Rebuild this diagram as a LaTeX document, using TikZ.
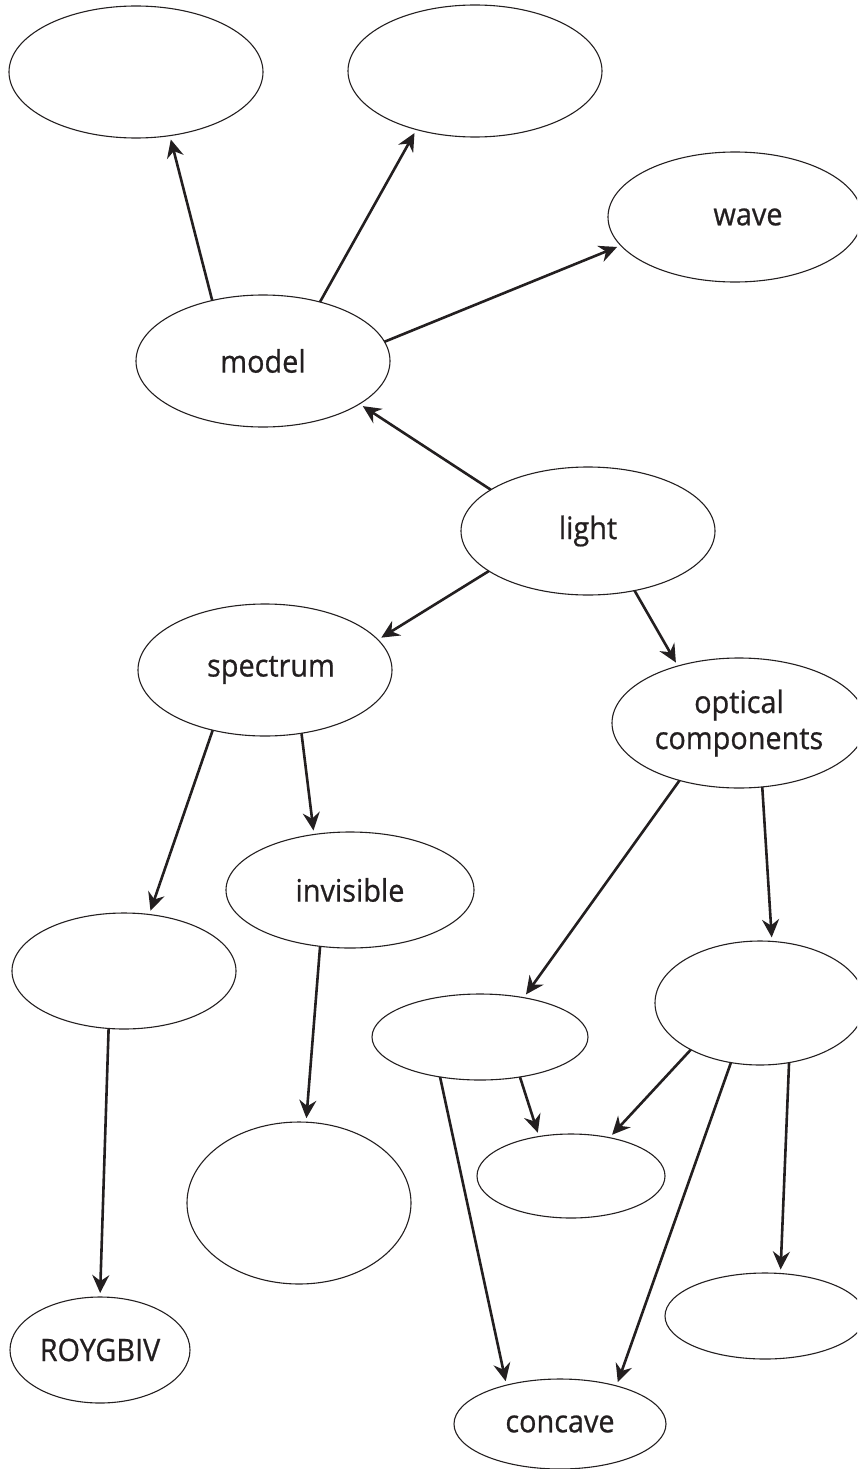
\documentclass[tikz,border=0pt]{standalone}
\usepackage{fontspec}
\setmainfont{Open Sans}[FakeStretch=0.93,FakeBold=0.7]
\usetikzlibrary{shapes.geometric,arrows.meta}
\definecolor{ink}{HTML}{231F20}
\begin{document}
\begin{tikzpicture}[x=1pt,y=-1pt,
  concept/.style={ellipse, draw=ink, line width=1.1pt, inner sep=0pt, outer sep=0pt,
    align=center, font=\fontsize{31}{36}\selectfont, text=ink},
  link/.style={draw=ink, line width=2.6pt, -{Stealth[length=18pt,width=17pt,inset=6pt]}, shorten >=4pt}
]
\useasboundingbox (0,0) rectangle (857,1469);
\clip (0,0) rectangle (857,1469);
\node[concept, minimum width=254pt, minimum height=132pt] (tl) at (136,72) {};
\node[concept, minimum width=254pt, minimum height=132pt] (tm) at (475,71) {};
\node[concept, minimum width=254pt, minimum height=130pt] (wave) at (735,217) {\hspace*{26pt}wave};
\node[concept, minimum width=254pt, minimum height=132pt] (model) at (263,361) {model};
\node[concept, minimum width=254pt, minimum height=128pt] (light) at (588,531) {light};
\node[concept, minimum width=254pt, minimum height=132pt] (spec) at (265,670) {\hspace*{12pt}spectrum};
\node[concept, minimum width=254pt, minimum height=130pt] (opt) at (739,723) {optical\\components};
\node[concept, minimum width=248pt, minimum height=116pt] (inv) at (350,890) {invisible};
\node[concept, minimum width=224pt, minimum height=116pt] (lm) at (124,971) {};
\node[concept, minimum width=216pt, minimum height=86pt] (mr) at (480,1037) {};
\node[concept, minimum width=210pt, minimum height=124pt] (re) at (760,1003) {};
\node[concept, minimum width=188pt, minimum height=84pt] (small) at (571,1176) {};
\node[concept, minimum width=224pt, minimum height=162pt] (big) at (299,1203) {};
\node[concept, minimum width=180pt, minimum height=106pt] (roy) at (100,1350) {ROYGBIV};
\node[concept, minimum width=200pt, minimum height=86pt] (rb) at (765,1316) {};
\node[concept, minimum width=212pt, minimum height=90pt] (conc) at (560,1424) {concave};

\draw[link] (model.130.1) -- (tl.-62);
\draw[link] (model.46.9) -- (tm.-135.5);
\draw[link] (model.9.8) -- (wave.-166.3);
\draw[link] (light.157.2) -- (model.-24.6);
\draw[link] (light.-158.3) -- (spec.15.1);
\draw[link] (light.-52) -- (opt.137.4);
\draw[link] (spec.-131.5) -- (lm.66.9);
\draw[link] (spec.-60.4) -- (inv.123);
\draw[link] (opt.-136.9) -- (mr.42.5);
\draw[link] (opt.-70.8) -- (re.79);
\draw[link] (inv.-118.1) -- (big.85.1);
\draw[link] (lm.-105.4) -- (roy.90);
\draw[link] (mr.-45.7) -- (small.129.5);
\draw[link] (mr.-135.7) -- (conc.144.2);
\draw[link] (re.-146.1) -- (small.45.7);
\draw[link] (re.-116.6) -- (conc.34.9);
\draw[link] (re.-64.2) -- (rb.70.8);
\end{tikzpicture}
\end{document}
